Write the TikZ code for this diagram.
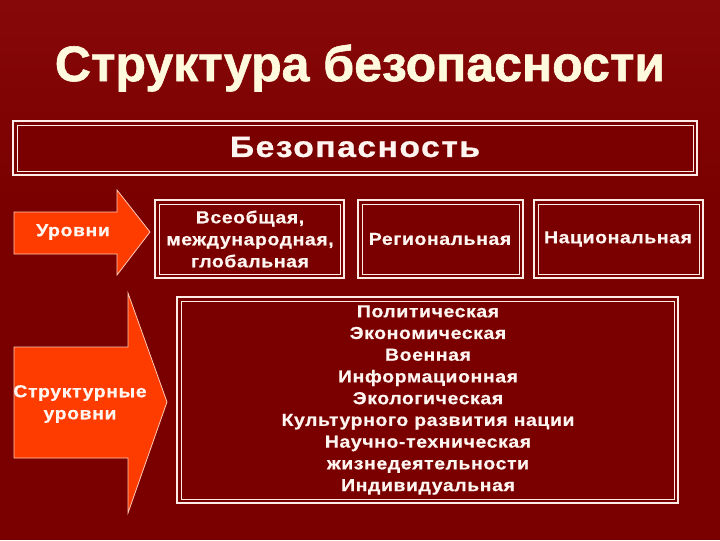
\documentclass[tikz,border=0pt]{standalone}
\usepackage{fontspec}
\setmainfont{Liberation Sans}
\newfontfamily\titlefont[FakeBold=1.2]{Liberation Sans}
\newfontfamily\headfont[LetterSpace=5,FakeStretch=1.15,FakeBold=0.8]{Liberation Sans}
\newfontfamily\lblfont[LetterSpace=3.5,FakeStretch=1.12,FakeBold=0.6]{Liberation Sans}
\definecolor{bgred}{RGB}{122,0,0}
\definecolor{bgtop}{RGB}{135,8,8}
\definecolor{cream}{RGB}{255,250,222}
\definecolor{txtw}{RGB}{255,245,240}
\definecolor{arrowfill}{RGB}{255,60,0}
\definecolor{edge}{RGB}{255,235,230}
\tikzset{
  framebox/.style={draw=edge, line width=2.2pt, fill=bgred},
  innerframe/.style={draw=edge, line width=0.7pt},
  lbl/.style={text=txtw, font=\lblfont\bfseries\fontsize{13}{16.5}\selectfont, align=center, inner sep=0pt},
  arrowshape/.style={fill=arrowfill, draw=edge!80!arrowfill, line width=0.6pt, line join=miter}
}
\begin{document}
\begin{tikzpicture}[x=0.75pt,y=-0.75pt]
\useasboundingbox (0,0) rectangle (720,540);
\fill[bgred] (0,0) rectangle (720,540);
\shade[top color=bgtop, bottom color=bgred] (0,0) rectangle (720,200);

% title
\node[text=cream, font=\titlefont\bfseries\fontsize{37.5}{42}\selectfont] (title) at (360,68) {Структура безопасности};

% Безопасность box
\draw[framebox] (13,121) rectangle (697,175);
\draw[innerframe] (17,125) rectangle (693,171);
\node[lbl, font=\headfont\bfseries\fontsize{22}{24}\selectfont] (bez) at (355,147) {Безопасность};

% arrow 1
\draw[arrowshape] (14,212) -- (117,212) -- (117,190) -- (150,232) -- (117,275) -- (117,254) -- (14,254) -- cycle;
\node[lbl] (ur) at (73,232) {Уровни};

% level boxes
\draw[framebox] (155,200) rectangle (344,278);
\draw[innerframe] (159,204) rectangle (340,274);
\node[lbl] (b1) at (250,239) {Всеобщая,\\международная,\\глобальная};

\draw[framebox] (358,200) rectangle (523,278);
\draw[innerframe] (362,204) rectangle (519,274);
\node[lbl] (b2) at (440,239) {Региональная};

\draw[framebox] (534,200) rectangle (703,278);
\draw[innerframe] (538,204) rectangle (699,274);
\node[lbl] (b3) at (618,239) {Национальная};

% arrow 2
\draw[arrowshape] (14,347) -- (128,347) -- (128,293) -- (167,402) -- (128,513) -- (128,458) -- (14,458) -- cycle;
\node[lbl] (sur) at (80,404) {Структурные\\уровни};

% big box
\draw[framebox] (177,297) rectangle (678,503);
\draw[innerframe] (181,301) rectangle (674,499);
\node[lbl, font=\lblfont\bfseries\fontsize{13}{16.3}\selectfont] (big) at (428,400) {Политическая\\Экономическая\\Военная\\Информационная\\Экологическая\\Культурного развития нации\\Научно-техническая\\жизнедеятельности\\Индивидуальная};
\end{tikzpicture}
\end{document}
